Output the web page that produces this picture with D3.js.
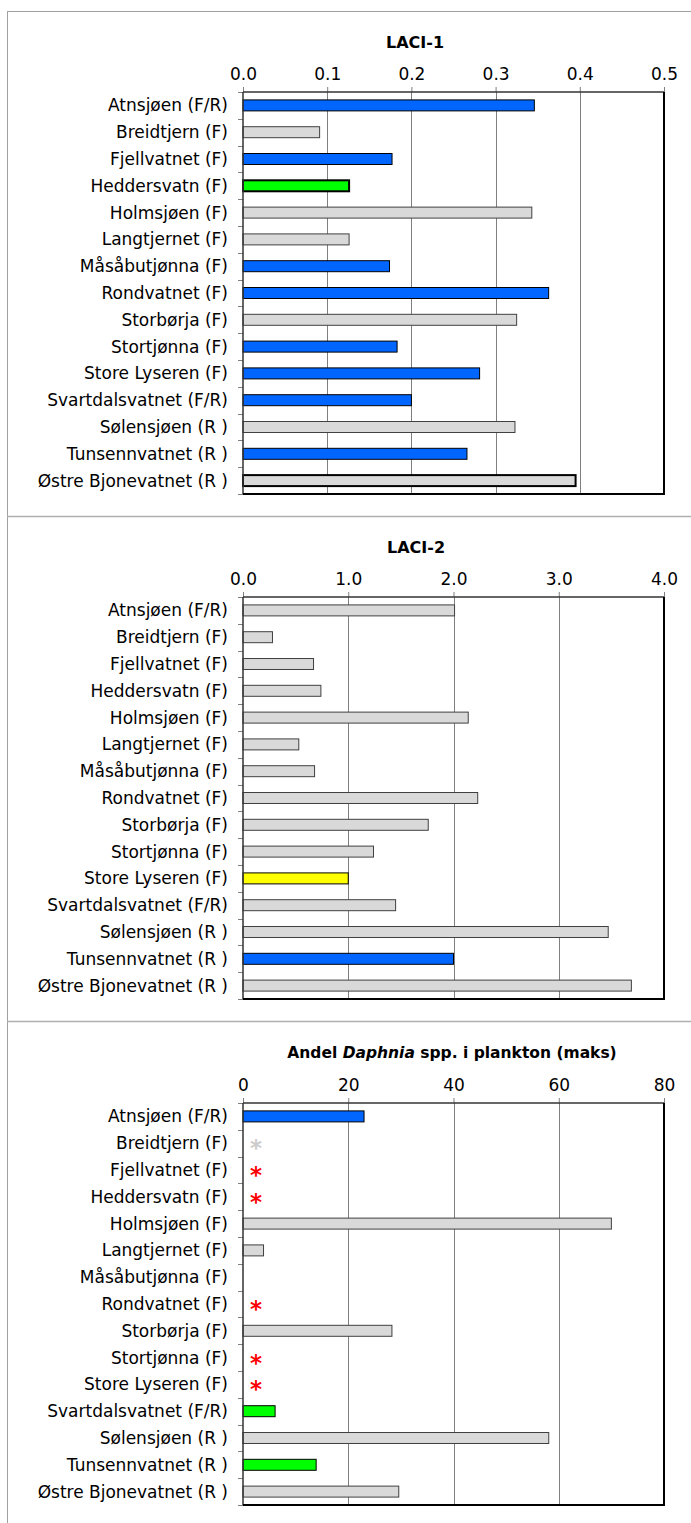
<!DOCTYPE html>
<html><head><meta charset="utf-8">
<script src="https://cdn.jsdelivr.net/npm/d3@7"></script>
<style>
body{margin:0;background:#fff;}
svg{display:block;}
text{font-family:"DejaVu Sans",sans-serif;}
</style></head><body>
<script>
const lakes = ["Atnsjøen (F/R)","Breidtjern (F)","Fjellvatnet (F)","Heddersvatn (F)","Holmsjøen (F)","Langtjernet (F)","Måsåbutjønna (F)","Rondvatnet (F)","Storbørja (F)","Stortjønna (F)","Store Lyseren (F)","Svartdalsvatnet (F/R)","Sølensjøen (R )","Tunsennvatnet (R )","Østre Bjonevatnet (R )"];

const laci1 = [0.346,0.091,0.177,0.126,0.343,0.126,0.174,0.363,0.325,0.183,0.281,0.200,0.323,0.266,0.395];
const laci1Class = ["B","G","B","N","G","G","B","B","G","B","B","B","G","B","Gx"];

const laci2 = [2.01,0.28,0.67,0.74,2.14,0.53,0.68,2.23,1.76,1.24,1.00,1.45,3.47,2.00,3.69];
const laci2Class = ["G","G","G","G","G","G","G","G","G","G","Y","G","G","B","G"];

const daphnia = [23,null,null,null,70,3.9,null,null,28.3,null,null,6.1,58.1,13.9,29.6];
const daphniaClass = ["B","*g","*r","*r","G","G","","*r","G","*r","*r","N","G","N","G"];

const ticks1 = [0,0.1,0.2,0.3,0.4,0.5];
const ticks2 = [0,1,2,3,4];
const ticks3 = [0,20,40,60,80];

const fills = {B:"#0066ff",G:"#d9d9d9",Gx:"#d9d9d9",N:"#00ff00",Y:"#ffff00"};

const W = 691, H = 1523;
const svg = d3.select("body").append("svg").attr("width",W).attr("height",H);

svg.append("rect").attr("x",7.5).attr("y",11.5).attr("width",W+10).attr("height",H+10)
  .attr("fill","none").attr("stroke","#a0a0a0").attr("stroke-width",1);
[516.5,1021.5].forEach(y=>svg.append("line").attr("x1",7).attr("x2",W).attr("y1",y).attr("y2",y)
  .attr("stroke","#b0b0b0").attr("stroke-width",1.5));

const left = 243, right = 664, plotH = 402;
const FS = 17;

function panel(top, values, classes, ticks, fmt, titleX, titleFn){
  const g = svg.append("g");
  const x = d3.scaleLinear().domain([ticks[0],ticks[ticks.length-1]]).range([left,right]);
  const y = d3.scaleBand().domain(lakes).range([top,top+plotH]).paddingInner(0.59).paddingOuter(0.295);
  const yb = d3.scaleBand().domain(lakes).range([top,top+plotH]);
  g.selectAll(".grid").data(ticks.slice(1,-1)).join("line")
    .attr("x1",d=>Math.round(x(d))+0.5).attr("x2",d=>Math.round(x(d))+0.5)
    .attr("y1",top).attr("y2",top+plotH).attr("stroke","#7f7f7f").attr("stroke-width",1);
  const ax = d3.axisTop(x).tickValues(ticks).tickFormat(fmt).tickSizeInner(5).tickSizeOuter(0);
  const axg = g.append("g").attr("transform",`translate(0,${top})`).call(ax);
  axg.select(".domain").remove();
  axg.selectAll(".tick line").attr("stroke","#7f7f7f");
  axg.selectAll(".tick text").attr("font-size",FS).attr("fill","#000").attr("dy","-0.25em")
    .style("font-family",'"DejaVu Sans",sans-serif');
  const bounds = lakes.map(l=>yb(l)).concat([top+plotH]);
  g.selectAll(".yt").data(bounds).join("line")
    .attr("x1",left-5).attr("x2",left).attr("y1",d=>Math.round(d)+0.5).attr("y2",d=>Math.round(d)+0.5)
    .attr("stroke","#7f7f7f");
  g.selectAll(".lab").data(lakes).join("text")
    .attr("x",left-15).attr("y",d=>yb(d)+yb.bandwidth()/2).attr("dy","0.35em")
    .attr("text-anchor","end").attr("font-size",FS).attr("fill","#000").text(d=>d);
  const idx = d3.range(lakes.length).filter(i=>values[i]!=null);
  g.selectAll(".bar").data(idx).join("rect")
    .attr("x",x(0)).attr("y",i=>y(lakes[i]))
    .attr("width",i=>x(values[i])-x(0)).attr("height",y.bandwidth())
    .attr("fill",i=>fills[classes[i]])
    .attr("stroke",i=>classes[i]==="G"?"#404040":"#000")
    .attr("stroke-width",i=>(classes[i]==="Gx"||(classes[i]==="N"&&top<100))?2:1);
  const ast = d3.range(lakes.length).filter(i=>classes[i] && classes[i][0]==="*");
  g.selectAll(".ast").data(ast).join("text")
    .attr("x",x(0)+13).attr("y",i=>yb(lakes[i])+yb.bandwidth()/2+13)
    .attr("text-anchor","middle").attr("font-size",23).attr("font-weight","bold")
    .attr("fill",i=>classes[i]==="*r"?"#ff0000":"#cccccc").text("*");
  g.append("line").attr("x1",left).attr("x2",left).attr("y1",top).attr("y2",top+plotH).attr("stroke","#333").attr("stroke-width",1.5);
  g.append("line").attr("x1",left).attr("x2",right).attr("y1",top).attr("y2",top).attr("stroke","#333").attr("stroke-width",1.5);
  g.append("line").attr("x1",right).attr("x2",right).attr("y1",top).attr("y2",top+plotH+1).attr("stroke","#000").attr("stroke-width",2);
  g.append("line").attr("x1",left).attr("x2",right+1).attr("y1",top+plotH).attr("y2",top+plotH).attr("stroke","#000").attr("stroke-width",2);
  const t = g.append("text").attr("x",titleX).attr("y",top-50).attr("dy","0.35em")
    .attr("text-anchor","middle").attr("font-size",16).attr("font-weight","bold").attr("fill","#000");
  titleFn(t);
}

panel(92, laci1, laci1Class, ticks1, d3.format(".1f"), 415, t=>t.text("LACI-1"));
panel(597, laci2, laci2Class, ticks2, d3.format(".1f"), 416, t=>t.text("LACI-2"));
panel(1103, daphnia, daphniaClass, ticks3, d3.format("d"), 452, t=>{
  t.attr("font-size",15.5);
  t.append("tspan").text("Andel ");
  t.append("tspan").attr("font-style","italic").text("Daphnia");
  t.append("tspan").text(" spp. i plankton (maks)");
});
</script>
</body></html>
